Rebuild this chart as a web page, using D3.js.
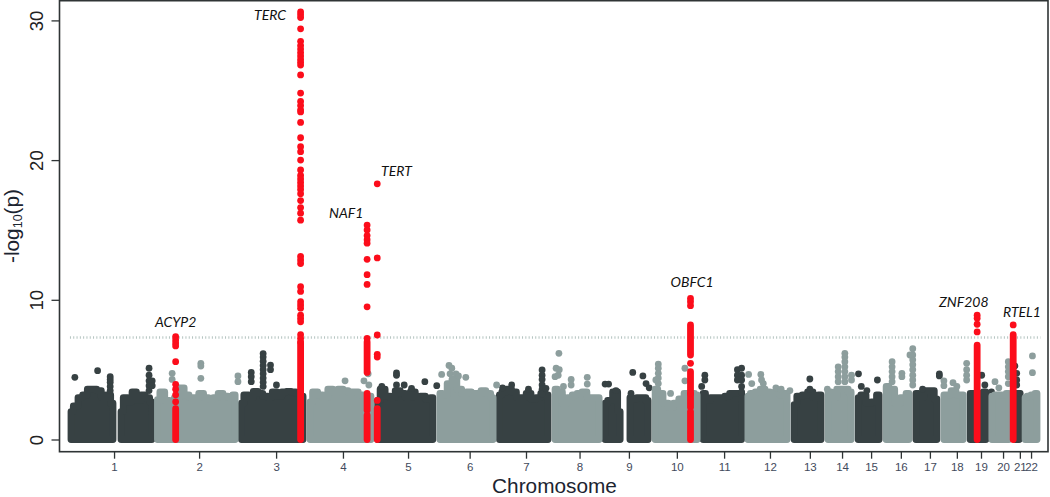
<!DOCTYPE html>
<html><head><meta charset="utf-8">
<script src="https://cdn.jsdelivr.net/npm/d3@7/dist/d3.min.js"></script>
<style>
html,body{margin:0;padding:0;background:#fff}
svg{display:block}
text{font-family:"Liberation Sans",Arial,sans-serif}
</style></head><body>
<script>
// ---- data ----
const chromosomes = ["1","2","3","4","5","6","7","8","9","10","11","12","13","14","15","16","17","18","19","20","21","22"];
const chromTicksMb = [123,366,586,777,963,1139,1300,1453,1594,1731,1866,1997,2111,2203,2286,2371,2454,2531,2600,2663,2711,2743];
const yTicks = [0,10,20,30];
const thresholdP = 7.3;
// genome segments: start, end (cumulative Mb), shade (0 dark,1 light)
const segStart = [0,143,247,487,683,876,1054,1224,1383,1526,1597,1669,1806,1934,2066,2163,2249,2329,2414,2494,2569,2631,2697,2726];
const segEnd   = [120,231,469,663,857,1034,1206,1363,1509,1569,1649,1789,1916,2046,2143,2229,2309,2394,2474,2549,2614,2680,2709,2760];
const segShade = [0,0,1,0,1,0,1,0,1,0,0,1,0,1,0,1,0,1,0,1,0,1,0,1];
// upper envelope of each segment's points, evenly spread along the segment
const segTops = [
 [2.0,2.4,3.0,3.2,3.6,3.6,3.5,3.0,3.2,2.6],
 [2.0,3.0,2.7,3.4,2.8,3.2,3.0,2.7],
 [2.85,3.4,2.8,2.7,3.0,3.7,3.2,3.0,3.0,3.3,3.0,2.9,3.0,3.3,3.1,3.0,3.2],
 [2.6,3.2,3.0,3.45,3.3,3.1,3.0,3.4,3.1,3.4,3.45,3.4,3.3,3.1],
 [2.7,3.4,3.2,3.0,3.6,3.4,3.6,3.5,3.4,3.4,3.2,3.0,3.1],
 [2.8,3.6,3.1,3.0,3.5,3.3,3.0,3.4,3.0,3.1,2.9,3.0],
 [3.3,3.2,4.0,4.3,3.6,3.3,3.4,3.3,3.3,3.5,3.3,3.0],
 [3.2,3.4,3.6,3.4,3.0,3.0,3.3,2.9,3.0,3.3,3.2],
 [3.6,3.4,2.6,3.0,3.2,3.3,3.4,3.0,3.0,3.0],
 [2.6,2.8,3.4,2.0],
 [3.0,2.9,3.0,3.0,2.8],
 [3.6,3.3,2.6,2.3,2.6,2.9,3.3,3.3,3.2],
 [3.3,2.8,3.0,3.0,3.0,3.1,3.3,3.3,3.3],
 [3.1,3.3,3.4,3.6,3.4,3.3,3.4,3.2,3.3],
 [2.5,3.1,3.2,3.4,3.0,3.2],
 [3.4,3.0,3.6,3.6,3.4],
 [3.0,3.2,2.6,2.7,3.2],
 [3.8,3.6,2.6,3.0,3.3],
 [3.3,3.0,3.5,3.5,2.9],
 [3.2,3.2,3.5,3.2,3.2],
 [3.3,3.3,3.3,3.4],
 [3.1,3.2,3.2,3.3],
 [3.3,3.3],
 [3.0,3.1,3.2,3.3]
];
// isolated points above the envelope: [Mb, -log10 p]
const darkPeaks = [
 [11,4.45],[76,4.93],[112,4.5],[112,4.3],[112,4.1],[112,3.8],[112,3.5],
 [223,5.1],[223,4.6],[223,4.2],[223,3.85],[223,3.5],[232,4.2],[232,3.85],
 [549,6.15],[549,5.9],[549,5.6],[549,5.3],[549,5.0],[549,4.7],[549,4.4],[549,4.1],[549,3.8],
 [570,5.33],[570,5.0],[515,4.8],[515,4.5],[515,4.14],[587,3.9],
 [930,4.76],[930,4.6],[930,3.9],[952,3.9],[1011,4.14],[1045,3.85],[888,3.8],[973,3.65],
 [1346,4.98],[1346,4.6],[1346,4.3],[1346,3.9],[1346,3.6],[1346,3.25],[1307,3.6],[1259,3.9],[1233,3.7],[1357,3.66],
 [1526,3.97],[1536,3.97],[1557,3.5],[1605,4.8],[1634,4.55],[1643,4.0],[1652,3.7],[1600,3.3],
 [1811,4.6],[1811,4.26],[1802,3.8],[1904,5.0],[1916,5.1],[1904,4.6],[1916,4.6],[1904,4.26],[1916,4.26],[1916,3.8],[1916,3.4],
 [2111,4.33],[2111,3.6],[2250,4.7],[2258,3.8],[2274,3.5],[2304,4.26],
 [2433,3.6],[2481,4.7],[2481,4.55],[2602,4.6],[2611,3.9],[2630,3.4],
 [2697,5.26],[2702,4.74],[2702,4.26],[2702,3.9],[2712,3.3]
];
const lightPeaks = [
 [289,4.74],[289,4.3],[371,5.45],[371,5.26],[371,4.38],[477,4.55],[477,4.14],
 [783,4.2],[837,4.2],[849,4.7],[851,3.9],
 [1080,5.3],[1088,5.1],[1059,4.66],[1083,4.7],[1100,4.7],[1107,4.55],[1128,4.45],[1216,3.9],
 [1394,6.17],[1386,5.1],[1395,5.0],[1392,4.6],[1383,4.5],[1429,4.3],[1429,3.9],[1475,4.45],[1475,3.97],[1407,3.8],
 [1678,5.4],[1678,5.1],[1678,4.74],[1678,4.4],[1678,4.0],[1671,4.26],[1713,3.3],[1754,5.1],[1754,4.2],
 [1936,4.66],[1945,4.0],[1971,4.66],[1973,4.26],[1978,4.0],[2014,3.7],[2029,3.6],[2054,3.5],
 [2211,6.17],[2211,5.9],[2211,5.57],[2211,5.2],[2211,4.86],[2211,4.5],[2211,4.14],
 [2192,5.2],[2192,4.86],[2192,4.5],[2192,4.14],[2230,4.6],[2230,4.26],[2161,3.6],
 [2346,5.57],[2346,5.2],[2346,4.86],[2346,4.5],[2346,4.14],[2374,4.74],[2374,4.5],
 [2405,6.5],[2405,6.05],[2405,5.7],[2405,5.35],[2405,5.0],[2405,4.6],[2405,4.26],[2405,3.9],[2397,6.05],
 [2494,4.2],[2494,3.85],[2520,4.07],[2531,3.8],
 [2559,5.45],[2559,5.0],[2559,4.6],[2559,4.26],
 [2640,4.14],[2651,3.7],[2678,5.57],[2678,5.2],[2678,4.86],[2678,4.5],[2678,4.0],
 [2747,5.98],[2747,4.78]
];
// significant loci
const geneNames = ["ACYP2","TERC","NAF1","TERT","OBFC1","ZNF208","RTEL1"];
const geneMb    = [299,656,846,875,1770,2589,2692];
const geneDots = [
 [7.36,7.12,6.9,6.7,5.57,3.95,3.6,3.2,2.7],
 [30.6,30.4,30.2,29.4,28.5,28.2,27.95,27.7,27.45,27.2,27.0,26.8,26.1,24.8,24.2,23.9,23.6,23.45,22.7,21.6,20.96,20.6,20.0,19.3,18.9,18.65,18.4,18.15,17.9,17.6,17.1,16.6,16.2,15.7,13.1,12.85,12.6,10.94,10.6,9.86,9.63,9.4,8.9,8.67,8.43,7.5,7.24,7.0],
 [15.35,15,14.6,14.3,14.05,12.9,11.8,11.1,9.5,7.24],
 [18.3,13,7.48,6.1,5.9,2.8],
 [10.1,9.86,9.58,5.45,3.3],
 [8.9,8.68,8.25,7.7],
 [8.2]
];
// unbroken stretches of overlapping points: [top, bottom]
const geneRuns = [
 [[2.2,0]],
 [[6.9,0]],
 [[7.0,4.8],[3.3,2.1],[1.75,0]],
 [[2.2,0]],
 [[8.2,6.05],[4.85,3.5],[3.3,2.3],[2.0,0]],
 [[6.76,0]],
 [[7.5,0]]
];
const geneLabelMb = [240,737,523,886,1713,2480,2663];
const geneLabelP  = [8.05,15.86,30.03,18.88,10.92,9.48,8.77];
const geneLabels  = ["ACYP2","NAF1","TERC","TERT","OBFC1","ZNF208","RTEL1"];

// ---- drawing ----
const W=1050,H=497, R=3.4;
const DARK="#374143", LIGHT="#8d9e9d", RED="#fc0d1b", AXIS="#2f3435";
const plot={left:59.5,right:1048,top:0.7,bottom:451.7};
const x=d3.scaleLinear().domain([0,2760]).range([71,1037]);
const y=d3.scaleLinear().domain([0,30]).range([439.5,20.4]);
const svg=d3.select("body").append("svg").attr("width",W).attr("height",H);

// threshold
svg.append("line").attr("x1",x(-3)).attr("x2",x(2770)).attr("y1",y(thresholdP)).attr("y2",y(thresholdP))
  .attr("stroke","#b4c4c0").attr("stroke-width",2.6).attr("stroke-dasharray","1 2.3");

const area=d3.area().x(d=>d[0]).y0(y(0)).y1(d=>d[1]).curve(d3.curveStep);
function shade(k,color,peaks){
  const g=svg.append("g").attr("fill",color).attr("stroke",color);
  segTops.forEach((tops,i)=>{
    if(segShade[i]!==k) return;
    const step=d3.scaleLinear().domain([0,tops.length-1]).range([segStart[i],segEnd[i]]);
    g.append("path").datum(tops.map((v,j)=>[x(step(j)),y(v)])).attr("d",area)
      .attr("stroke-width",2*R).attr("stroke-linejoin","round");
  });
  g.selectAll("circle").data(peaks).join("circle")
    .attr("cx",d=>x(d[0])).attr("cy",d=>y(d[1])).attr("r",R).attr("stroke","none");
}
shade(0,DARK,darkPeaks);
shade(1,LIGHT,lightPeaks);

// significant loci
const red=svg.append("g");
geneNames.forEach((n,i)=>{
  const g=red.append("g").attr("class",n);
  g.selectAll("line").data(geneRuns[i]).join("line")
    .attr("x1",x(geneMb[i])).attr("x2",x(geneMb[i]))
    .attr("y1",d=>y(d[0])).attr("y2",d=>y(d[1]))
    .attr("stroke",RED).attr("stroke-width",2*R).attr("stroke-linecap","round");
  g.selectAll("circle").data(geneDots[i]).join("circle")
    .attr("cx",x(geneMb[i])).attr("cy",d=>y(d)).attr("r",R).attr("fill",RED);
});

// gene labels
svg.append("g").selectAll("text").data(geneLabels).join("text")
  .attr("x",(d,i)=>x(geneLabelMb[i])).attr("y",(d,i)=>y(geneLabelP[i]))
  .text(d=>d)
  .style("font-family","Lato,'Open Sans',sans-serif").style("font-style","italic")
  .style("font-size","14px").attr("fill","#111");

// box
svg.append("rect").attr("x",plot.left).attr("y",plot.top)
  .attr("width",plot.right-plot.left).attr("height",plot.bottom-plot.top)
  .attr("fill","none").attr("stroke",AXIS).attr("stroke-width",1.6);

// x axis
const xAxis=d3.axisBottom(x).tickValues(chromTicksMb).tickSize(7).tickPadding(4)
  .tickFormat((d,i)=>chromosomes[i]);
const gx=svg.append("g").attr("transform",`translate(0,${plot.bottom})`).call(xAxis);
gx.select(".domain").remove();
gx.selectAll(".tick line").attr("stroke",AXIS).attr("stroke-width",1.3);
gx.selectAll(".tick text").style("font-size","11.5px").attr("fill","#3f4a5c");

// y axis
const yAxis=d3.axisLeft(y).tickValues(yTicks).tickSize(8).tickPadding(0).tickFormat(d3.format("d"));
const gy=svg.append("g").attr("transform",`translate(${plot.left},0)`).call(yAxis);
gy.select(".domain").remove();
gy.selectAll(".tick line").attr("stroke",AXIS).attr("stroke-width",1.3);
gy.selectAll(".tick text")
  .attr("x",null).attr("dy",null)
  .attr("text-anchor","middle")
  .attr("transform","translate(-16.5,0) rotate(-90)")
  .style("font-size","18.5px").attr("fill","#222");

// axis titles
svg.append("text").attr("x",554.5).attr("y",492.5).attr("text-anchor","middle")
  .style("font-size","20.8px").attr("fill","#1c2430").text("Chromosome");
const yt=svg.append("text").attr("transform","translate(19,226) rotate(-90)")
  .attr("text-anchor","middle").style("font-size","20.8px").attr("fill","#1c2430");
yt.append("tspan").text("-log");
yt.append("tspan").attr("dy",3).style("font-size","12.5px").text("10");
yt.append("tspan").attr("dy",-3).text("(p)");
</script>
</body></html>
